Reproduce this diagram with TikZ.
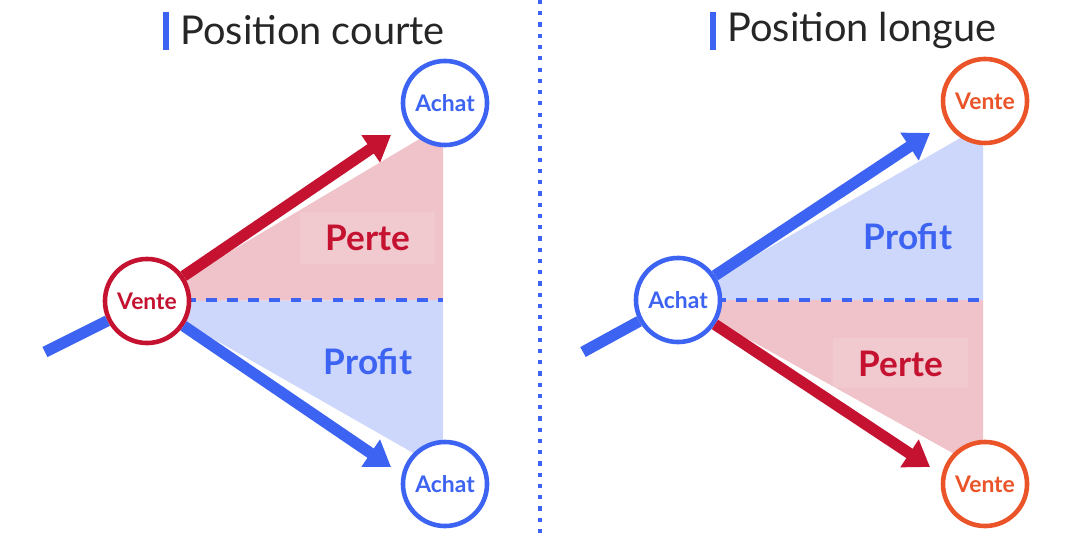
\documentclass[tikz,border=0pt]{standalone}
\usepackage{fontspec}
\setmainfont{Lato}
\usetikzlibrary{arrows.meta}
\definecolor{bleu}{HTML}{3D63F2}
\definecolor{rouge}{HTML}{C41230}
\definecolor{orange}{HTML}{EA5428}
\definecolor{fondrouge}{HTML}{F0C3CA}
\definecolor{fondbleu}{HTML}{CDD7FC}
\tikzset{
  pt/.style={shape=circle,draw=#1,fill=white,line width=1.3pt,minimum size=0.84cm,inner sep=0pt,text=#1,font=\bfseries\fontsize{6.5}{7}\selectfont},
  fleche/.style={line width=3.2pt,draw=#1,-{Triangle[length=7pt,width=9pt]}},
  titre/.style={font=\fontsize{11.3}{13}\selectfont,text=black!85,anchor=west},
  etiq/.style={font=\bfseries\fontsize{10}{12}\selectfont,text=#1}
}
\begin{document}
\begin{tikzpicture}[x=0.01cm,y=-0.01cm]
    \useasboundingbox (0,0) rectangle (1080,540);
    % separateur
    \draw[bleu,line width=1.2pt,dotted] (540,0) -- (540,540);
    % titres
    \draw[bleu,line width=1.5pt] (166,12) -- (166,50);
    \node[titre] (t1) at (168,30) {Position courte};
    \draw[bleu,line width=1.5pt] (713,12) -- (713,50);
    \node[titre] (t2) at (715,30) {Position longue};
    % position courte
    \fill[fondrouge] (147,301) -- (443,125) -- (443,300) -- cycle;
    \fill[fondbleu] (147,301) -- (443,300) -- (443,470) -- cycle;
    \fill[rouge!5,opacity=0.15] (300,212) rectangle (435,264);
    \draw[bleu,line width=1.3pt,dashed] (185,300) -- (443,300);
    \coordinate (d1) at (45,352);
    \node[pt=rouge] (v1) at (147,301) {Vente};
    \node[pt=bleu] (a1) at (445,103) {Achat};
    \node[pt=bleu] (a2) at (445,484) {Achat};
    \draw[bleu,line width=3.2pt] (d1) -- (v1);
    \draw[fleche=rouge] (v1) -- (391,135);
    \draw[fleche=bleu] (v1) -- (391,467);
    \node[etiq=rouge] (perte1) at (368,238) {Perte};
    \node[etiq=bleu] (profit1) at (368,362) {Profit};
    % position longue
    \fill[fondbleu] (678,300) -- (983,125) -- (983,300) -- cycle;
    \fill[fondrouge] (678,300) -- (983,300) -- (983,470) -- cycle;
    \fill[rouge!5,opacity=0.15] (833,338) rectangle (968,388);
    \draw[bleu,line width=1.3pt,dashed] (715,300) -- (983,300);
    \coordinate (d2) at (583,352);
    \node[pt=bleu] (a3) at (678,300) {Achat};
    \node[pt=orange] (v2) at (985,101) {Vente};
    \node[pt=orange] (v3) at (985,484) {Vente};
    \draw[bleu,line width=3.2pt] (d2) -- (a3);
    \draw[fleche=bleu] (a3) -- (930,133);
    \draw[fleche=rouge] (a3) -- (930,467);
    \node[etiq=bleu] (profit2) at (908,237) {Profit};
    \node[etiq=rouge] (perte2) at (901,364) {Perte};
\end{tikzpicture}
\end{document}
